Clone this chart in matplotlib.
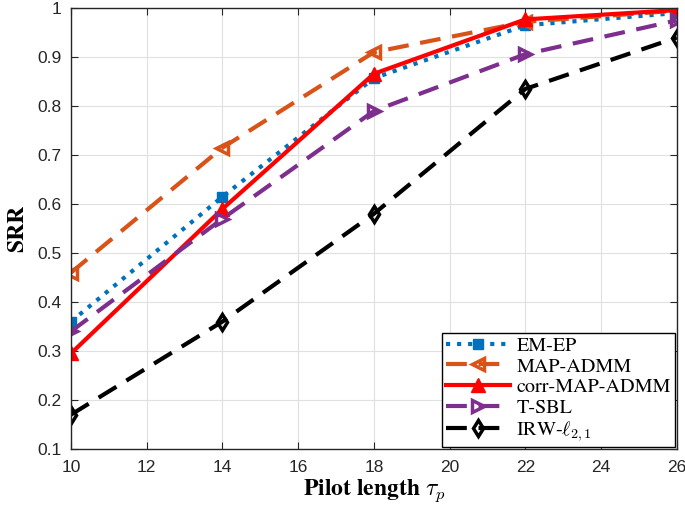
import matplotlib
matplotlib.use("Agg")
import matplotlib.pyplot as plt
import numpy as np

# === Data ===
pilot = [10, 14, 18, 22, 26]
em_ep = [0.36, 0.615, 0.857, 0.965, 0.99]
map_admm = [0.46, 0.715, 0.91, 0.972, 0.995]
corr_map_admm = [0.295, 0.59, 0.866, 0.977, 0.996]
t_sbl = [0.34, 0.57, 0.79, 0.906, 0.975]
irw = [0.17, 0.36, 0.58, 0.835, 0.94]

plt.rcParams['mathtext.fontset'] = 'cm'

fig = plt.figure(figsize=(6.85, 5.09), dpi=100)
ax = fig.add_axes([0.1036, 0.118, 0.8844, 0.866])

lw = 3
dash = (0, (5, 2.8))
ax.plot(pilot, em_ep, color='#0072BD', ls=':', lw=lw, marker='s', ms=6.5,
        label='EM-EP')
ax.plot(pilot, map_admm, color='#D95319', ls=dash, lw=lw, marker='<', ms=9,
        mfc='none', mew=2.5, label='MAP-ADMM')
ax.plot(pilot, corr_map_admm, color='red', ls='-', lw=lw, marker='^', ms=10,
        label='corr-MAP-ADMM')
ax.plot(pilot, t_sbl, color='#7E2F8E', ls=dash, lw=lw, marker='>', ms=9,
        mfc='none', mew=2.5, label='T-SBL')
ax.plot(pilot, irw, color='black', ls=dash, lw=lw, marker='d', ms=8,
        mfc='none', mew=2.5, label=r'IRW-$\ell_{2,1}$')

ax.set_xlim(10, 26)
ax.set_ylim(0.1, 1)
ax.set_xticks(np.arange(10, 27, 2))
ax.set_yticks(np.arange(0.1, 1.01, 0.1))
ax.set_yticklabels(['0.1', '0.2', '0.3', '0.4', '0.5', '0.6', '0.7', '0.8', '0.9', '1'])
ax.tick_params(direction='in', top=True, right=True, labelsize=12.5, colors='#262626',
               length=5)
ax.tick_params(axis='x', pad=8)
ax.tick_params(axis='y', pad=7)
for lab in ax.get_xticklabels() + ax.get_yticklabels():
    lab.set_family('Liberation Sans')
ax.grid(True, color='#e0e0e0', lw=0.8)
for sp in ax.spines.values():
    sp.set_color('#262626')
    sp.set_linewidth(1)

ax.set_xlabel(r'Pilot length $\tau_p$', family='STIXGeneral', fontweight='bold',
              fontsize=17, labelpad=2)
ax.set_ylabel('SRR', family='STIXGeneral', fontweight='bold', fontsize=17, labelpad=6)

leg = ax.legend(loc='lower right', prop={'family': 'STIXGeneral', 'size': 14.5},
                fancybox=False, edgecolor='black', framealpha=1, handlelength=3.2,
                borderpad=0.2, labelspacing=0.12, handletextpad=0.3,
                borderaxespad=0.1)
leg.get_frame().set_linewidth(1)

fig.savefig('out.png')
